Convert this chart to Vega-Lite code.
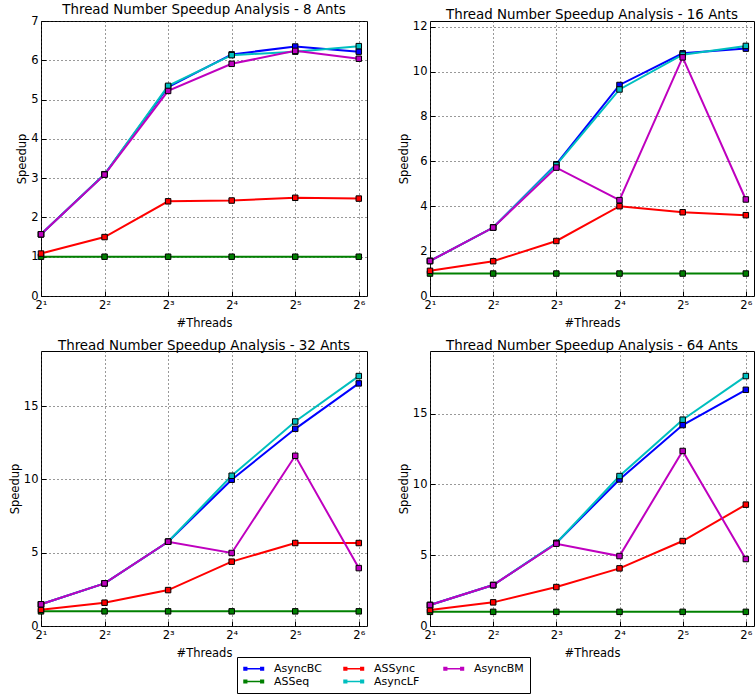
{
  "$schema": "https://vega.github.io/schema/vega-lite/v6.json",
  "padding": {"left": 8, "top": 2, "right": 0, "bottom": 0},
  "background": "white",
  "datasets": {
    "speed": [
      {"ants": 8, "threads": 2, "series": "AsyncBC", "speedup": 1.57},
      {"ants": 8, "threads": 4, "series": "AsyncBC", "speedup": 3.10},
      {"ants": 8, "threads": 8, "series": "AsyncBC", "speedup": 5.32},
      {"ants": 8, "threads": 16, "series": "AsyncBC", "speedup": 6.15},
      {"ants": 8, "threads": 32, "series": "AsyncBC", "speedup": 6.35},
      {"ants": 8, "threads": 64, "series": "AsyncBC", "speedup": 6.22},
      {"ants": 8, "threads": 2, "series": "ASSeq", "speedup": 1.0},
      {"ants": 8, "threads": 4, "series": "ASSeq", "speedup": 1.0},
      {"ants": 8, "threads": 8, "series": "ASSeq", "speedup": 1.0},
      {"ants": 8, "threads": 16, "series": "ASSeq", "speedup": 1.0},
      {"ants": 8, "threads": 32, "series": "ASSeq", "speedup": 1.0},
      {"ants": 8, "threads": 64, "series": "ASSeq", "speedup": 1.0},
      {"ants": 8, "threads": 2, "series": "ASSync", "speedup": 1.08},
      {"ants": 8, "threads": 4, "series": "ASSync", "speedup": 1.50},
      {"ants": 8, "threads": 8, "series": "ASSync", "speedup": 2.41},
      {"ants": 8, "threads": 16, "series": "ASSync", "speedup": 2.43},
      {"ants": 8, "threads": 32, "series": "ASSync", "speedup": 2.50},
      {"ants": 8, "threads": 64, "series": "ASSync", "speedup": 2.48},
      {"ants": 8, "threads": 2, "series": "AsyncLF", "speedup": 1.57},
      {"ants": 8, "threads": 4, "series": "AsyncLF", "speedup": 3.10},
      {"ants": 8, "threads": 8, "series": "AsyncLF", "speedup": 5.35},
      {"ants": 8, "threads": 16, "series": "AsyncLF", "speedup": 6.13},
      {"ants": 8, "threads": 32, "series": "AsyncLF", "speedup": 6.22},
      {"ants": 8, "threads": 64, "series": "AsyncLF", "speedup": 6.36},
      {"ants": 8, "threads": 2, "series": "AsyncBM", "speedup": 1.57},
      {"ants": 8, "threads": 4, "series": "AsyncBM", "speedup": 3.09},
      {"ants": 8, "threads": 8, "series": "AsyncBM", "speedup": 5.22},
      {"ants": 8, "threads": 16, "series": "AsyncBM", "speedup": 5.91},
      {"ants": 8, "threads": 32, "series": "AsyncBM", "speedup": 6.24},
      {"ants": 8, "threads": 64, "series": "AsyncBM", "speedup": 6.04},

      {"ants": 16, "threads": 2, "series": "AsyncBC", "speedup": 1.56},
      {"ants": 16, "threads": 4, "series": "AsyncBC", "speedup": 3.05},
      {"ants": 16, "threads": 8, "series": "AsyncBC", "speedup": 5.87},
      {"ants": 16, "threads": 16, "series": "AsyncBC", "speedup": 9.40},
      {"ants": 16, "threads": 32, "series": "AsyncBC", "speedup": 10.81},
      {"ants": 16, "threads": 64, "series": "AsyncBC", "speedup": 11.02},
      {"ants": 16, "threads": 2, "series": "ASSeq", "speedup": 1.0},
      {"ants": 16, "threads": 4, "series": "ASSeq", "speedup": 1.0},
      {"ants": 16, "threads": 8, "series": "ASSeq", "speedup": 1.0},
      {"ants": 16, "threads": 16, "series": "ASSeq", "speedup": 1.0},
      {"ants": 16, "threads": 32, "series": "ASSeq", "speedup": 1.0},
      {"ants": 16, "threads": 64, "series": "ASSeq", "speedup": 1.0},
      {"ants": 16, "threads": 2, "series": "ASSync", "speedup": 1.12},
      {"ants": 16, "threads": 4, "series": "ASSync", "speedup": 1.55},
      {"ants": 16, "threads": 8, "series": "ASSync", "speedup": 2.45},
      {"ants": 16, "threads": 16, "series": "ASSync", "speedup": 4.00},
      {"ants": 16, "threads": 32, "series": "ASSync", "speedup": 3.73},
      {"ants": 16, "threads": 64, "series": "ASSync", "speedup": 3.60},
      {"ants": 16, "threads": 2, "series": "AsyncLF", "speedup": 1.56},
      {"ants": 16, "threads": 4, "series": "AsyncLF", "speedup": 3.05},
      {"ants": 16, "threads": 8, "series": "AsyncLF", "speedup": 5.84},
      {"ants": 16, "threads": 16, "series": "AsyncLF", "speedup": 9.20},
      {"ants": 16, "threads": 32, "series": "AsyncLF", "speedup": 10.75},
      {"ants": 16, "threads": 64, "series": "AsyncLF", "speedup": 11.14},
      {"ants": 16, "threads": 2, "series": "AsyncBM", "speedup": 1.56},
      {"ants": 16, "threads": 4, "series": "AsyncBM", "speedup": 3.05},
      {"ants": 16, "threads": 8, "series": "AsyncBM", "speedup": 5.72},
      {"ants": 16, "threads": 16, "series": "AsyncBM", "speedup": 4.27},
      {"ants": 16, "threads": 32, "series": "AsyncBM", "speedup": 10.63},
      {"ants": 16, "threads": 64, "series": "AsyncBM", "speedup": 4.30},

      {"ants": 32, "threads": 2, "series": "AsyncBC", "speedup": 1.48},
      {"ants": 32, "threads": 4, "series": "AsyncBC", "speedup": 2.91},
      {"ants": 32, "threads": 8, "series": "AsyncBC", "speedup": 5.75},
      {"ants": 32, "threads": 16, "series": "AsyncBC", "speedup": 9.98},
      {"ants": 32, "threads": 32, "series": "AsyncBC", "speedup": 13.45},
      {"ants": 32, "threads": 64, "series": "AsyncBC", "speedup": 16.55},
      {"ants": 32, "threads": 2, "series": "ASSeq", "speedup": 1.0},
      {"ants": 32, "threads": 4, "series": "ASSeq", "speedup": 1.0},
      {"ants": 32, "threads": 8, "series": "ASSeq", "speedup": 1.0},
      {"ants": 32, "threads": 16, "series": "ASSeq", "speedup": 1.0},
      {"ants": 32, "threads": 32, "series": "ASSeq", "speedup": 1.0},
      {"ants": 32, "threads": 64, "series": "ASSeq", "speedup": 1.0},
      {"ants": 32, "threads": 2, "series": "ASSync", "speedup": 1.11},
      {"ants": 32, "threads": 4, "series": "ASSync", "speedup": 1.59},
      {"ants": 32, "threads": 8, "series": "ASSync", "speedup": 2.45},
      {"ants": 32, "threads": 16, "series": "ASSync", "speedup": 4.39},
      {"ants": 32, "threads": 32, "series": "ASSync", "speedup": 5.66},
      {"ants": 32, "threads": 64, "series": "ASSync", "speedup": 5.66},
      {"ants": 32, "threads": 2, "series": "AsyncLF", "speedup": 1.48},
      {"ants": 32, "threads": 4, "series": "AsyncLF", "speedup": 2.91},
      {"ants": 32, "threads": 8, "series": "AsyncLF", "speedup": 5.75},
      {"ants": 32, "threads": 16, "series": "AsyncLF", "speedup": 10.25},
      {"ants": 32, "threads": 32, "series": "AsyncLF", "speedup": 13.95},
      {"ants": 32, "threads": 64, "series": "AsyncLF", "speedup": 17.05},
      {"ants": 32, "threads": 2, "series": "AsyncBM", "speedup": 1.48},
      {"ants": 32, "threads": 4, "series": "AsyncBM", "speedup": 2.91},
      {"ants": 32, "threads": 8, "series": "AsyncBM", "speedup": 5.75},
      {"ants": 32, "threads": 16, "series": "AsyncBM", "speedup": 4.98},
      {"ants": 32, "threads": 32, "series": "AsyncBM", "speedup": 11.61},
      {"ants": 32, "threads": 64, "series": "AsyncBM", "speedup": 3.95},

      {"ants": 64, "threads": 2, "series": "AsyncBC", "speedup": 1.48},
      {"ants": 64, "threads": 4, "series": "AsyncBC", "speedup": 2.89},
      {"ants": 64, "threads": 8, "series": "AsyncBC", "speedup": 5.86},
      {"ants": 64, "threads": 16, "series": "AsyncBC", "speedup": 10.35},
      {"ants": 64, "threads": 32, "series": "AsyncBC", "speedup": 14.19},
      {"ants": 64, "threads": 64, "series": "AsyncBC", "speedup": 16.68},
      {"ants": 64, "threads": 2, "series": "ASSeq", "speedup": 1.0},
      {"ants": 64, "threads": 4, "series": "ASSeq", "speedup": 1.0},
      {"ants": 64, "threads": 8, "series": "ASSeq", "speedup": 1.0},
      {"ants": 64, "threads": 16, "series": "ASSeq", "speedup": 1.0},
      {"ants": 64, "threads": 32, "series": "ASSeq", "speedup": 1.0},
      {"ants": 64, "threads": 64, "series": "ASSeq", "speedup": 1.0},
      {"ants": 64, "threads": 2, "series": "ASSync", "speedup": 1.13},
      {"ants": 64, "threads": 4, "series": "ASSync", "speedup": 1.67},
      {"ants": 64, "threads": 8, "series": "ASSync", "speedup": 2.75},
      {"ants": 64, "threads": 16, "series": "ASSync", "speedup": 4.07},
      {"ants": 64, "threads": 32, "series": "ASSync", "speedup": 6.00},
      {"ants": 64, "threads": 64, "series": "ASSync", "speedup": 8.57},
      {"ants": 64, "threads": 2, "series": "AsyncLF", "speedup": 1.48},
      {"ants": 64, "threads": 4, "series": "AsyncLF", "speedup": 2.89},
      {"ants": 64, "threads": 8, "series": "AsyncLF", "speedup": 5.86},
      {"ants": 64, "threads": 16, "series": "AsyncLF", "speedup": 10.59},
      {"ants": 64, "threads": 32, "series": "AsyncLF", "speedup": 14.57},
      {"ants": 64, "threads": 64, "series": "AsyncLF", "speedup": 17.65},
      {"ants": 64, "threads": 2, "series": "AsyncBM", "speedup": 1.48},
      {"ants": 64, "threads": 4, "series": "AsyncBM", "speedup": 2.89},
      {"ants": 64, "threads": 8, "series": "AsyncBM", "speedup": 5.81},
      {"ants": 64, "threads": 16, "series": "AsyncBM", "speedup": 4.94},
      {"ants": 64, "threads": 32, "series": "AsyncBM", "speedup": 12.36},
      {"ants": 64, "threads": 64, "series": "AsyncBM", "speedup": 4.73}
    ]
  },
  "columns": 2,
  "spacing": {"row": 55, "column": 63},
  "bounds": "flush",
  "concat": [
    {
      "width": 326, "height": 275,
      "title": {"text": "Thread Number Speedup Analysis - 8 Ants"},
      "data": {"name": "speed"},
      "transform": [{"filter": "datum.ants == 8"}],
      "encoding": {
        "x": {"field": "threads", "type": "quantitative", "scale": {"type": "log", "base": 2, "domain": [2, 70], "nice": false}, "axis": {"values": [2, 4, 8, 16, 32, 64], "title": "#Threads", "labelExpr": "'2' + ['⁰','¹','²','³','⁴','⁵','⁶','⁷'][round(log(datum.value)/LN2)]"}},
        "y": {"field": "speedup", "type": "quantitative", "scale": {"domain": [0, 7], "nice": false}, "axis": {"values": [0, 1, 2, 3, 4, 5, 6, 7], "title": "Speedup"}},
        "color": {"field": "series", "type": "nominal", "scale": {"domain": ["AsyncBC", "ASSync", "AsyncBM", "ASSeq", "AsyncLF"], "range": ["#0000ff", "#ff0000", "#bf00bf", "#008000", "#00bfbf"]}}
      },
      "layer": [
        {"mark": {"type": "line", "strokeWidth": 2}},
        {"mark": {"type": "point", "shape": "square", "filled": true, "size": 30, "stroke": "black", "strokeWidth": 1, "opacity": 1}}
      ]
    },
    {
      "width": 324, "height": 275,
      "title": {"text": "Thread Number Speedup Analysis - 16 Ants"},
      "data": {"name": "speed"},
      "transform": [{"filter": "datum.ants == 16"}],
      "encoding": {
        "x": {"field": "threads", "type": "quantitative", "scale": {"type": "log", "base": 2, "domain": [2, 70], "nice": false}, "axis": {"values": [2, 4, 8, 16, 32, 64], "title": "#Threads", "labelExpr": "'2' + ['⁰','¹','²','³','⁴','⁵','⁶','⁷'][round(log(datum.value)/LN2)]"}},
        "y": {"field": "speedup", "type": "quantitative", "scale": {"domain": [0, 12.25], "nice": false}, "axis": {"values": [0, 2, 4, 6, 8, 10, 12], "title": "Speedup"}},
        "color": {"field": "series", "type": "nominal", "scale": {"domain": ["AsyncBC", "ASSync", "AsyncBM", "ASSeq", "AsyncLF"], "range": ["#0000ff", "#ff0000", "#bf00bf", "#008000", "#00bfbf"]}}
      },
      "layer": [
        {"mark": {"type": "line", "strokeWidth": 2}},
        {"mark": {"type": "point", "shape": "square", "filled": true, "size": 30, "stroke": "black", "strokeWidth": 1, "opacity": 1}}
      ]
    },
    {
      "width": 326, "height": 275,
      "title": {"text": "Thread Number Speedup Analysis - 32 Ants"},
      "data": {"name": "speed"},
      "transform": [{"filter": "datum.ants == 32"}],
      "encoding": {
        "x": {"field": "threads", "type": "quantitative", "scale": {"type": "log", "base": 2, "domain": [2, 70], "nice": false}, "axis": {"values": [2, 4, 8, 16, 32, 64], "title": "#Threads", "labelExpr": "'2' + ['⁰','¹','²','³','⁴','⁵','⁶','⁷'][round(log(datum.value)/LN2)]"}},
        "y": {"field": "speedup", "type": "quantitative", "scale": {"domain": [0, 18.76], "nice": false}, "axis": {"values": [0, 5, 10, 15], "title": "Speedup"}},
        "color": {"field": "series", "type": "nominal", "scale": {"domain": ["AsyncBC", "ASSync", "AsyncBM", "ASSeq", "AsyncLF"], "range": ["#0000ff", "#ff0000", "#bf00bf", "#008000", "#00bfbf"]}}
      },
      "layer": [
        {"mark": {"type": "line", "strokeWidth": 2}},
        {"mark": {"type": "point", "shape": "square", "filled": true, "size": 30, "stroke": "black", "strokeWidth": 1, "opacity": 1}}
      ]
    },
    {
      "width": 324, "height": 275,
      "title": {"text": "Thread Number Speedup Analysis - 64 Ants"},
      "data": {"name": "speed"},
      "transform": [{"filter": "datum.ants == 64"}],
      "encoding": {
        "x": {"field": "threads", "type": "quantitative", "scale": {"type": "log", "base": 2, "domain": [2, 70], "nice": false}, "axis": {"values": [2, 4, 8, 16, 32, 64], "title": "#Threads", "labelExpr": "'2' + ['⁰','¹','²','³','⁴','⁵','⁶','⁷'][round(log(datum.value)/LN2)]"}},
        "y": {"field": "speedup", "type": "quantitative", "scale": {"domain": [0, 19.42], "nice": false}, "axis": {"values": [0, 5, 10, 15], "title": "Speedup"}},
        "color": {"field": "series", "type": "nominal", "scale": {"domain": ["AsyncBC", "ASSync", "AsyncBM", "ASSeq", "AsyncLF"], "range": ["#0000ff", "#ff0000", "#bf00bf", "#008000", "#00bfbf"]}}
      },
      "layer": [
        {"mark": {"type": "line", "strokeWidth": 2}},
        {"mark": {"type": "point", "shape": "square", "filled": true, "size": 30, "stroke": "black", "strokeWidth": 1, "opacity": 1}}
      ]
    }
  ],
  "config": {
    "font": "DejaVu Sans",
    "view": {"stroke": "black", "strokeWidth": 1},
    "axis": {
      "domain": false,
      "grid": true,
      "gridColor": "#333333",
      "gridDash": [1, 3],
      "gridOpacity": 1,
      "gridWidth": 1,
      "ticks": true,
      "tickColor": "black",
      "tickSize": -5,
      "labelPadding": 8,
      "labelFont": "DejaVu Sans",
      "labelFontSize": 11.5,
      "labelColor": "black",
      "titleFont": "DejaVu Sans",
      "titleFontSize": 11.5,
      "titleFontWeight": "normal",
      "titleColor": "black"
    },
    "axisX": {"labelOverlap": false, "labelFlush": false, "titlePadding": 7},
    "axisY": {"titlePadding": 3},
    "title": {"font": "DejaVu Sans", "fontSize": 13.4, "fontWeight": 400, "anchor": "middle", "offset": -1, "color": "black", "frame": "group"},
    "legend": {
      "orient": "none",
      "legendX": 196,
      "legendY": 636,
      "columns": 3,
      "direction": "horizontal",
      "gridAlign": "all",
      "title": null,
      "symbolType": "M-1,-0.4H-0.2V0.4H-1Z M2.2,-0.4H3V0.4H2.2Z M-0.2,-0.15H2.2V0.15H-0.2Z",
      "symbolSize": 110,
      "symbolStrokeWidth": 0,
      "symbolOpacity": 1,
      "labelOffset": 20,
      "labelFont": "DejaVu Sans",
      "labelFontSize": 11,
      "labelColor": "black",
      "columnPadding": 19,
      "rowPadding": 1,
      "padding": 6,
      "strokeColor": "black",
      "fillColor": "white"
    }
  }
}
